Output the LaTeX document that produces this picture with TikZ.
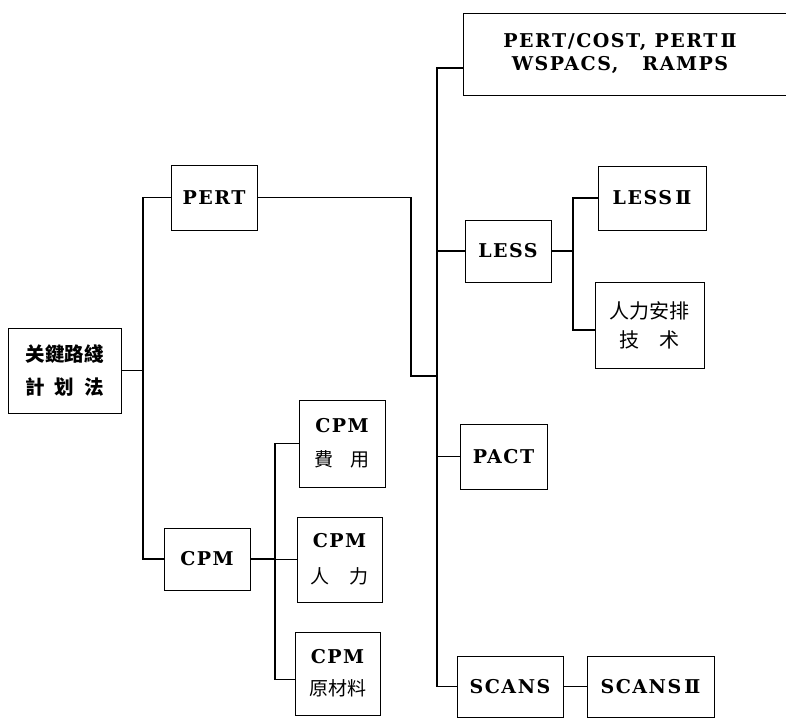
\documentclass[tikz,border=0pt]{standalone}
\usepackage{fontspec}
\newfontfamily\romfont[LetterSpace=8]{DejaVu Serif}
\newfontfamily\hanfont{Noto Sans CJK SC}
\newcommand{\hz}[1]{{\hanfont\mdseries\fontsize{19}{20}\selectfont #1}}
\newcommand{\rtwo}{{\addfontfeature{LetterSpace=0}\,Ⅱ}}

\begin{document}
\begin{tikzpicture}[
  x=1pt,y=-1pt,
  box/.style={draw,line width=0.8pt,inner sep=2pt,align=center,
              font=\romfont\bfseries\fontsize{19}{22}\selectfont},
  hanbox/.style={box,font=\hanfont\fontsize{20}{23}\selectfont},
  link/.style={line width=1.1pt},
]
\useasboundingbox (0,0) rectangle (786,719);

% ---------- LEFT: root and the two methods ----------
\node[hanbox,font=\hanfont\bfseries\fontsize{19.5}{23}\selectfont,
      minimum width=113pt,minimum height=85pt] (root) at (64.5,370.5)
      {关鍵路綫\\[10pt]計\hspace{10pt}划\hspace{10pt}法};
\node[box,minimum width=86pt,minimum height=65pt] (pert) at (214,197.5) {PERT};
\node[box,minimum width=86pt,minimum height=62pt] (cpm) at (207,559) {CPM};

% ---------- CPM family ----------
\node[box,minimum width=86pt,minimum height=87pt] (cpmfee) at (342,443.5)
      {CPM\\[12pt]\hz{費\hspace{17pt}用}};
\node[box,minimum width=85pt,minimum height=85pt] (cpmman) at (339.5,559.5)
      {CPM\\[14pt]\hz{人\hspace{20pt}力}};
\node[box,minimum width=85pt,minimum height=83pt] (cpmmat) at (337.5,673.5)
      {CPM\\[10pt]\hz{原材料}};

% ---------- PERT family ----------
\node[box,minimum width=338pt,minimum height=82pt] (pcost) at (632,54)
      {\hspace*{-24pt}PERT/COST, PERT\rtwo\\[1pt]\hspace*{-24pt}WSPACS,\hspace{24pt}RAMPS};
\node[box,minimum width=86pt,minimum height=62pt] (less) at (508,251) {LESS};
\node[box,minimum width=108pt,minimum height=64pt] (less2) at (652,198) {LESS\rtwo};
\node[hanbox,minimum width=109pt,minimum height=86pt] (manpow) at (649.5,325)
      {人力安排\\[6pt]技\hspace{20pt}术};
\node[box,minimum width=87pt,minimum height=65pt] (pact) at (503.5,456.5) {PACT};
\node[box,minimum width=106pt,minimum height=61pt] (scans) at (510,686.5) {SCANS};
\node[box,minimum width=127pt,minimum height=61pt] (scans2) at (650.5,686.5) {SCANS\rtwo};

% ---------- bus lines ----------
\coordinate (lbus) at (143,0);
\coordinate (cbus) at (275,0);
\coordinate (rbus) at (437,0);
\coordinate (lessbus) at (573,0);
\coordinate (pjoin) at (411,376);
\coordinate (pcin) at ([yshift=-14pt]pcost.west);
\coordinate (manin) at ([yshift=-5pt]manpow.west);
\coordinate (matin) at ([yshift=-6pt]cpmmat.west);

\draw[link] (root.east) -- (root.east -| lbus);
\draw[link] (pert.west) -- (pert.west -| lbus) -- (cpm.west -| lbus) -- (cpm.west);
\draw[link] (pert.east) -| (pjoin) -- (pjoin -| rbus);

\draw[link] (cpm.east) -- (cpm.east -| cbus);
\draw[link] (cpmfee.west) -| (cbus |- matin) -- (matin);
\draw[link] (cpmman.west) -- (cpmman.west -| cbus);

\draw[link] (pcin) -| (rbus |- scans.west) -- (scans.west);
\draw[link] (less.west) -- (less.west -| rbus);
\draw[link] (pact.west) -- (pact.west -| rbus);
\draw[link] (less.east) -- (less.east -| lessbus);
\draw[link] (less2.west) -| (lessbus |- manin) -- (manin);
\draw[link] (scans.east) -- (scans2.west);

\end{tikzpicture}
\end{document}
